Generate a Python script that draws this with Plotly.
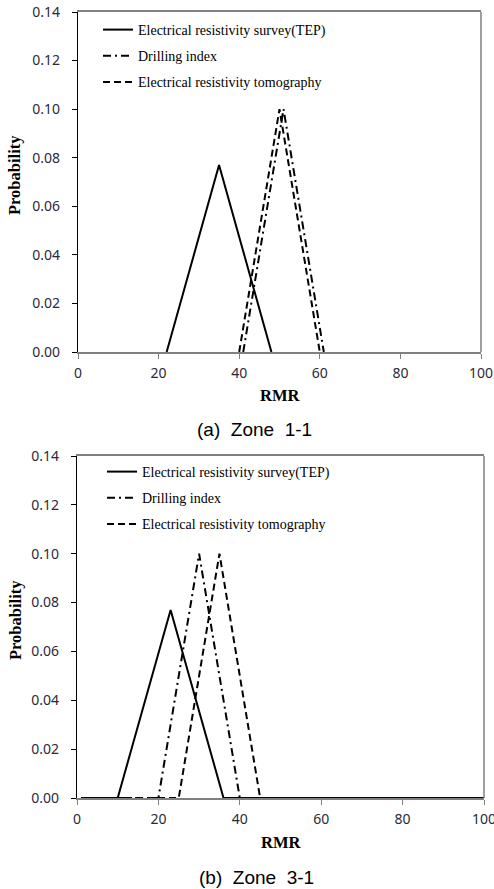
import plotly.graph_objects as go

W, H = 494, 889

series_names = ["Electrical resistivity survey(TEP)", "Drilling index", "Electrical resistivity tomography"]

# Zone 1-1
z1_tep_x = [22, 35, 48]
z1_tep_y = [0.0, 0.077, 0.0]
z1_drill_x = [41, 51, 61]
z1_drill_y = [0.0, 0.100, 0.0]
z1_ert_x = [40, 50, 60]
z1_ert_y = [0.0, 0.100, 0.0]

# Zone 3-1
z3_tep_x = [1, 10, 23, 36, 100]
z3_tep_y = [0.0, 0.0, 0.077, 0.0, 0.0]
z3_drill_x = [1, 20, 30, 40, 100]
z3_drill_y = [0.0, 0.0, 0.100, 0.0, 0.0]
z3_ert_x = [1, 25, 35, 45, 100]
z3_ert_y = [0.0, 0.0, 0.100, 0.0, 0.0]

x_ticks = [0, 20, 40, 60, 80, 100]
y_ticks = [0.00, 0.02, 0.04, 0.06, 0.08, 0.10, 0.12, 0.14]
captions = ["(a)&nbsp; Zone&nbsp; 1-1", "(b)&nbsp; Zone&nbsp; 3-1"]
x_title = "RMR"
y_title = "Probability"

dashes = ["solid", "8px,4px,2px,4px", "7px,4px"]

fig = go.Figure()

def add_zone(xs, ys, xa, ya, legend):
    for i, (x, y) in enumerate(zip(xs, ys)):
        fig.add_trace(go.Scatter(
            x=x, y=y, mode="lines", name=series_names[i],
            line=dict(color="black", width=2, dash=dashes[i]),
            xaxis=xa, yaxis=ya, legend=legend, legendgroup=f"{legend}{i}",
            legendrank=i + 1, hoverinfo="skip"))

add_zone([z1_tep_x, z1_drill_x, z1_ert_x], [z1_tep_y, z1_drill_y, z1_ert_y], "x", "y", "legend")
add_zone([z3_tep_x, z3_drill_x, z3_ert_x], [z3_tep_y, z3_drill_y, z3_ert_y], "x2", "y2", "legend2")

def px_x(p):
    return p / W

def px_y(p):
    return 1 - p / H

tickfont = dict(family="Noto Sans", size=14, color="#2a2a3a")
titlefont = dict(family="Liberation Serif", size=16.5, color="black")

def xaxis_cfg(domain, anchor):
    return dict(domain=domain, range=[0, 100], tickvals=x_ticks, anchor=anchor,
                ticktext=[str(v) for v in x_ticks], automargin=False,
                ticklabeloverflow="allow",
                showline=True, linecolor="#808080", linewidth=1.5, mirror=True,
                ticks="outside", ticklen=5, tickcolor="#808080", tickwidth=1,
                ticklabelstandoff=2,
                showgrid=False, zeroline=False, tickfont=tickfont)

def yaxis_cfg(domain, anchor):
    return dict(domain=domain, range=[0, 0.14], tickvals=y_ticks,
                ticktext=[f"{v:.2f}" for v in y_ticks], anchor=anchor,
                automargin=False, ticklabeloverflow="allow",
                showline=True, linecolor="black", linewidth=1.2, mirror=False,
                ticks="outside", ticklen=5, tickcolor="black", tickwidth=1,
                ticklabelstandoff=9,
                showgrid=False, zeroline=False, tickfont=tickfont)

legend_font = dict(family="Liberation Serif", size=14, color="black")

shapes = []
for xr in ["x domain", "x2 domain"]:
    yr = "y domain" if xr == "x domain" else "y2 domain"
    shapes.append(dict(type="line", xref=xr, yref=yr, x0=1, x1=1, y0=0, y1=1,
                       line=dict(color="#808080", width=1.5)))

def txt(text, x, y, font, angle=0):
    return dict(text=text, x=px_x(x), y=px_y(y), xref="paper", yref="paper",
                xanchor="center", yanchor="middle", textangle=angle,
                showarrow=False, font=font)

capfont = dict(family="Liberation Sans", size=19, color="black")

fig.update_layout(
    width=W, height=H,
    margin=dict(l=0, r=0, t=0, b=0, autoexpand=False),
    paper_bgcolor="white", plot_bgcolor="white",
    xaxis=xaxis_cfg([px_x(78), px_x(481)], "y"),
    yaxis=yaxis_cfg([px_y(352), px_y(12)], "x"),
    xaxis2=xaxis_cfg([px_x(77), px_x(484)], "y2"),
    yaxis2=yaxis_cfg([px_y(798), px_y(456)], "x2"),
    legend=dict(x=px_x(98), y=px_y(14), xanchor="left", yanchor="top",
                bgcolor="rgba(0,0,0,0)", font=legend_font, tracegroupgap=5,
                itemwidth=30),
    legend2=dict(x=px_x(102), y=px_y(456), xanchor="left", yanchor="top",
                 bgcolor="rgba(0,0,0,0)", font=legend_font, tracegroupgap=5,
                 itemwidth=30),
    showlegend=True,
    shapes=shapes,
    annotations=[
        txt(captions[0], 254.5, 430, capfont),
        txt(captions[1], 256, 877, capfont),
        txt(f"<b>{x_title}</b>", 280, 395, titlefont),
        txt(f"<b>{x_title}</b>", 281, 842, titlefont),
        txt(f"<b>{y_title}</b>", 15, 175, titlefont, -90),
        txt(f"<b>{y_title}</b>", 15, 620, titlefont, -90),
    ],
)

fig.write_html("out.html")
